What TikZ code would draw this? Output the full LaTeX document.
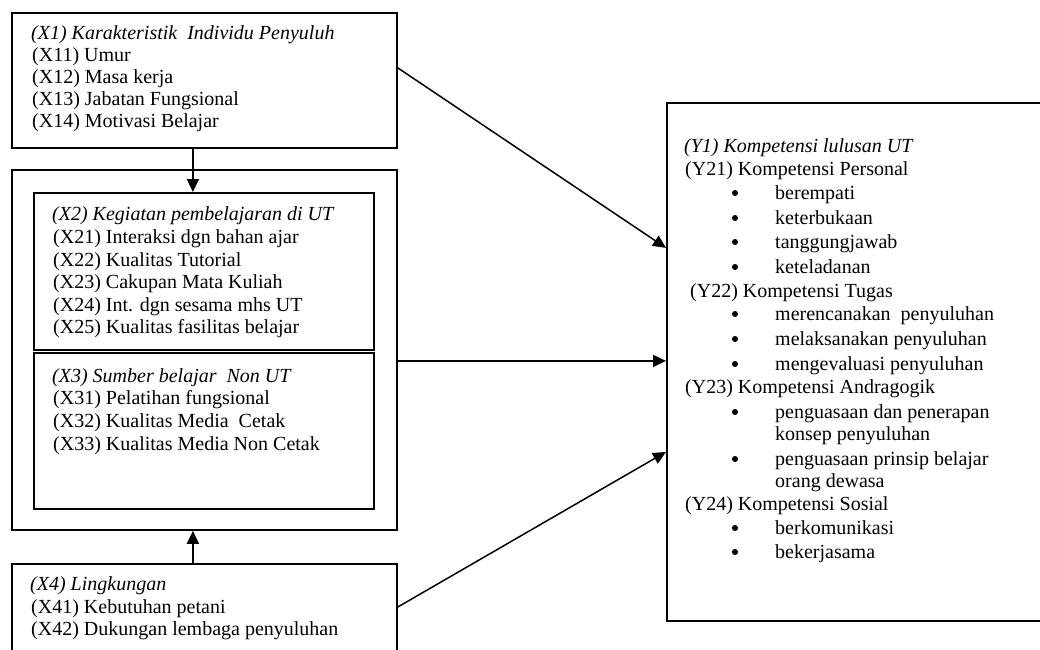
\documentclass[tikz,border=0pt]{standalone}
\usepackage{fontspec}
\setmainfont{Liberation Serif}
\usetikzlibrary{arrows.meta}
\begin{document}
\begin{tikzpicture}[x=1pt,y=-1pt,
  box/.style={draw, line width=1.8pt, inner sep=0pt, anchor=north west},
  inbox/.style={draw, line width=1.6pt, inner sep=0pt, anchor=north west},
  arr/.style={line width=1.5pt, -{Triangle[length=13pt,width=12pt]}},
  txt/.style={anchor=base west, inner sep=0pt, font=\fontsize{20}{22}\selectfont},
  bul/.style={circle, fill, inner sep=0pt, minimum size=6pt}]
\useasboundingbox (0,0) rectangle (1040,649);
\clip (0,0) rectangle (1040,649);
% boxes
\node[box, minimum width=385pt, minimum height=135pt] (x1) at (11,12) {};
\node[box, minimum width=385pt, minimum height=360pt] (outer) at (11,169) {};
\node[inbox, minimum width=340pt, minimum height=157pt] (x2) at (33,192) {};
\node[inbox, minimum width=340pt, minimum height=156pt] (x3) at (33,352) {};
\node[box, minimum width=385pt, minimum height=110pt] (x4) at (11,563) {};
\node[box, minimum width=390pt, minimum height=518pt] (y) at (666,102) {};
% texts X1
\node[txt] (t11) at (31,39) {\itshape (X1) Karakteristik\ \ Individu Penyuluh};
\node[txt] (t12) at (32,61) {(X11) Umur};
\node[txt] (t13) at (32,83) {(X12) Masa kerja};
\node[txt] (t14) at (32,105) {(X13) Jabatan Fungsional};
\node[txt] (t15) at (32,127) {(X14) Motivasi Belajar};
% X2
\node[txt] (t21) at (52,220) {\itshape (X2) Kegiatan pembelajaran di UT};
\node[txt] (t22) at (53,243) {(X21) Interaksi dgn bahan ajar};
\node[txt] (t23) at (53,266) {(X22) Kualitas Tutorial};
\node[txt] (t24) at (53,288) {(X23) Cakupan Mata Kuliah};
\node[txt] (t25) at (53,311) {(X24) Int. dgn sesama mhs UT};
\node[txt] (t26) at (53,333) {(X25) Kualitas fasilitas belajar};
% X3
\node[txt] (t31) at (52,382) {\itshape (X3) Sumber belajar\ \ Non UT};
\node[txt] (t32) at (53,404) {(X31) Pelatihan fungsional};
\node[txt] (t33) at (53,427) {(X32) Kualitas Media\ \ Cetak};
\node[txt] (t34) at (53,450) {(X33) Kualitas Media Non Cetak};
% X4
\node[txt] (t41) at (30,590) {\itshape (X4) Lingkungan};
\node[txt] (t42) at (31,613) {(X41) Kebutuhan petani};
\node[txt] (t43) at (31,635) {(X42) Dukungan lembaga penyuluhan};
% Y
\node[txt] (ty1) at (684,152) {\itshape (Y1) Kompetensi lulusan UT};
\node[txt] (ty2) at (685,175) {(Y21) Kompetensi Personal};
\foreach \yy/\tt [count=\i] in {199/berempati,224/keterbukaan,248/tanggungjawab,273/keteladanan,320/{merencanakan\ \ penyuluhan},345/melaksanakan penyuluhan,370/mengevaluasi penyuluhan,418/penguasaan dan penerapan,465/penguasaan prinsip belajar,534/berkomunikasi,558/bekerjasama}{
  \node[bul] (b\i) at (735,\yy-6) {};
  \node[txt] (bt\i) at (775,\yy) {\tt};
}
\node[txt] (ty3) at (690,297) {(Y22) Kompetensi Tugas};
\node[txt] (ty4) at (685,393) {(Y23) Kompetensi Andragogik};
\node[txt] (ty5) at (775,440) {konsep penyuluhan};
\node[txt] (ty6) at (775,487) {orang dewasa};
\node[txt] (ty7) at (685,510) {(Y24) Kompetensi Sosial};
% arrows
\draw[arr] ([xshift=-11.5pt]x1.south) -- ([xshift=-11.5pt]x1.south |- x2.north);
\draw[arr] ([xshift=-11.5pt]x4.north) -- ([xshift=-11.5pt]x4.north |- outer.south);
\draw[arr] ([yshift=12.5pt]x1.east) -- ([yshift=114pt]y.west);
\draw[arr] ([yshift=-11pt]outer.east) -- ([yshift=1pt]y.west);
\draw[arr] ([yshift=-44pt]x4.north east) -- ([yshift=-90pt]y.west);
\end{tikzpicture}
\end{document}
